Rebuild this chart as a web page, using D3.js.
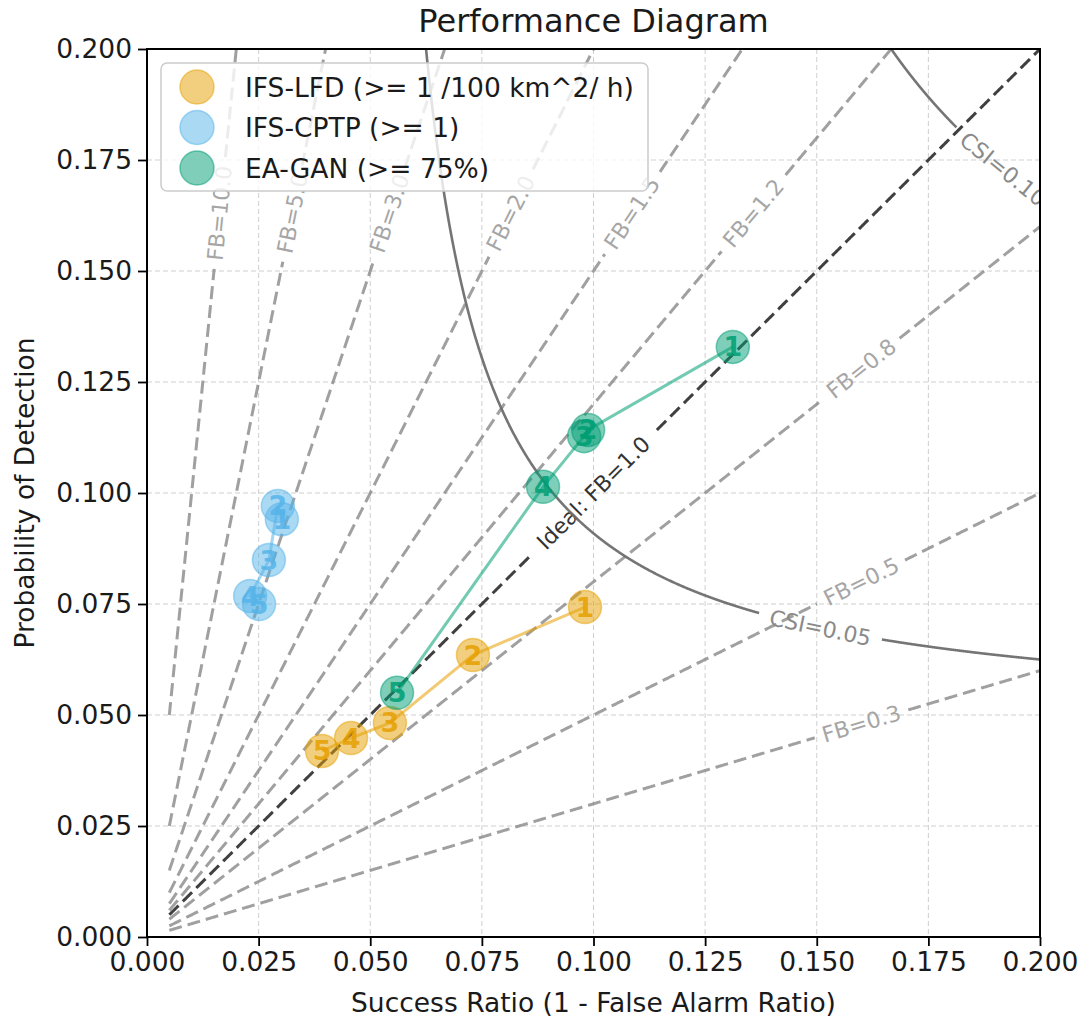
<!DOCTYPE html>
<html>
<head>
<meta charset="utf-8">
<script src="https://cdn.jsdelivr.net/npm/d3@7/dist/d3.min.js"></script>
<style>
  html, body { margin: 0; padding: 0; background: #fff; }
  svg { display: block; font-family: "DejaVu Sans", sans-serif; }
</style>
</head>
<body>
<svg id="chart" width="1083" height="1021"></svg>
<script>
// ---- data -------------------------------------------------------------
const leadTimes = [1, 2, 3, 4, 5];

const lfdSR  = [0.0981, 0.0730, 0.0544, 0.0457, 0.0392];
const lfdPOD = [0.0743, 0.0635, 0.0482, 0.0448, 0.0419];

const cptpSR  = [0.0302, 0.0293, 0.0273, 0.0231, 0.0251];
const cptpPOD = [0.0941, 0.0971, 0.0849, 0.0768, 0.0750];

const ganSR  = [0.1312, 0.0988, 0.0979, 0.0887, 0.0560];
const ganPOD = [0.1329, 0.1142, 0.1128, 0.1014, 0.0550];

const seriesNames  = ["IFS-LFD (>= 1 /100 km^2/ h)", "IFS-CPTP (>= 1)", "EA-GAN (>= 75%)"];
const seriesColors = ["#E69F00", "#56B4E9", "#009E73"];

const fbLevels = [10.0, 5.0, 3.0, 2.0, 1.5, 1.2, 0.8, 0.5, 0.3];
const fbLabels = ["FB=10.0", "FB=5.0", "FB=3.0", "FB=2.0", "FB=1.5", "FB=1.2", "FB=0.8", "FB=0.5", "FB=0.3"];
const csiLevels = [0.05, 0.10];
const csiLabels = ["CSI=0.05", "CSI=0.10"];
const csiLabelSR = [0.1508, 0.1917];

const tickValues = [0, 0.025, 0.05, 0.075, 0.1, 0.125, 0.15, 0.175, 0.2];

// ---- layout -----------------------------------------------------------
const svg = d3.select("#chart");
const L = 147, R = 1040, T = 49, B = 937;
const x = d3.scaleLinear().domain([0, 0.2]).range([L, R]);
const y = d3.scaleLinear().domain([0, 0.2]).range([B, T]);

svg.append("defs").append("clipPath").attr("id", "plotClip")
  .append("rect").attr("x", L).attr("y", T).attr("width", R - L).attr("height", B - T);

// grid
const grid = svg.append("g");
tickValues.forEach(v => {
  grid.append("line").attr("x1", x(v)).attr("x2", x(v)).attr("y1", T).attr("y2", B);
  grid.append("line").attr("x1", L).attr("x2", R).attr("y1", y(v)).attr("y2", y(v));
});
grid.selectAll("line").attr("stroke", "#cfcfcf").attr("stroke-width", 1)
  .attr("stroke-dasharray", "5,3");

const plot = svg.append("g").attr("clip-path", "url(#plotClip)");
const lineGen = d3.line().defined(d => d.keep).x(d => x(d.sr)).y(d => y(d.pod));

// label text; returns its half length so the line can be broken around it
function placeLabel(text, sr, pod, angleDeg, color) {
  const t = plot.append("text")
    .attr("transform", `translate(${x(sr)},${y(pod)}) rotate(${angleDeg})`)
    .attr("text-anchor", "middle")
    .attr("dominant-baseline", "central")
    .attr("font-size", 22)
    .attr("fill", color)
    .text(text);
  return t.node().getComputedTextLength() / 2;
}

function drawBroken(points, cx, cy, half, style) {
  points.forEach(p => {
    p.keep = Math.hypot(x(p.sr) - cx, y(p.pod) - cy) > half;
  });
  const path = plot.append("path").attr("d", lineGen(points)).attr("fill", "none");
  Object.entries(style).forEach(([k, v]) => path.attr(k, v));
  return path;
}

// frequency bias lines: POD = FB * SR
const fbStyle = { stroke: "#808080", "stroke-opacity": 0.75, "stroke-width": 3, "stroke-dasharray": "13,6" };
fbLevels.forEach((fb, i) => {
  const srMax = Math.min(0.2, 0.2 / fb);
  const pts = d3.range(0, 801).map(k => {
    const sr = 0.005 + (srMax - 0.005) * k / 800;
    return { sr, pod: fb * sr };
  });
  const lsr = fb > 1 ? 0.163 / fb : 0.16;
  const lpod = fb * lsr;
  const ang = -Math.atan2(y(0) - y(fb * 0.1), x(0.1) - x(0)) * 180 / Math.PI;
  const half = placeLabel(fbLabels[i], lsr, lpod, ang, "#a6a6a6");
  drawBroken(pts, x(lsr), y(lpod), half + 8, fbStyle);
});

// ideal line FB = 1
{
  const pts = d3.range(0, 801).map(k => {
    const sr = 0.005 + 0.195 * k / 800;
    return { sr, pod: sr };
  });
  const ang = -Math.atan2(y(0) - y(0.1), x(0.1) - x(0)) * 180 / Math.PI;
  const half = placeLabel("Ideal: FB=1.0", 0.1, 0.1, ang, "#333333");
  drawBroken(pts, x(0.1), y(0.1), half + 14,
    { stroke: "#2b2b2b", "stroke-opacity": 0.9, "stroke-width": 3, "stroke-dasharray": "13,6" });
}

// critical success index curves: 1/POD = 1/CSI + 1 - 1/SR
csiLevels.forEach((csi, i) => {
  const K = 1 / csi + 1;
  const srMin = 1 / (K - 5);
  const pts = d3.range(0, 1201).map(k => {
    const sr = srMin + (0.2 - srMin) * k / 1200;
    return { sr, pod: 1 / (K - 1 / sr) };
  });
  const lsr = csiLabelSR[i];
  const lpod = 1 / (K - 1 / lsr);
  const slope = (lpod / lsr) * (lpod / lsr);
  const ang = Math.atan(slope * (y(0) - y(0.1)) / (x(0.1) - x(0))) * 180 / Math.PI;
  const half = placeLabel(csiLabels[i], lsr, lpod, ang, "#8a8a8a");
  drawBroken(pts, x(lsr), y(lpod), half + 11,
    { stroke: "#6e6e6e", "stroke-opacity": 0.95, "stroke-width": 2.6 });
});

// ---- series -----------------------------------------------------------
const series = [
  { sr: lfdSR, pod: lfdPOD },
  { sr: cptpSR, pod: cptpPOD },
  { sr: ganSR, pod: ganPOD }
];
const markLine = d3.line().x(d => x(d[0])).y(d => y(d[1]));
series.forEach((s, si) => {
  const col = seriesColors[si];
  const pts = s.sr.map((v, k) => [v, s.pod[k]]);
  const g = svg.append("g");
  g.append("path").attr("d", markLine(pts)).attr("fill", "none")
    .attr("stroke", col).attr("stroke-opacity", 0.55).attr("stroke-width", 3);
  g.selectAll("circle").data(pts).join("circle")
    .attr("cx", d => x(d[0])).attr("cy", d => y(d[1])).attr("r", 16.5)
    .attr("fill", col).attr("fill-opacity", 0.5)
    .attr("stroke", col).attr("stroke-opacity", 0.5).attr("stroke-width", 1.5);
  g.selectAll("text").data(pts).join("text")
    .attr("x", d => x(d[0])).attr("y", d => y(d[1]))
    .attr("text-anchor", "middle").attr("dominant-baseline", "central")
    .attr("font-size", 27).attr("font-weight", "bold")
    .attr("fill", col).attr("fill-opacity", 0.85)
    .text((d, k) => leadTimes[k]);
});

// ---- axes -------------------------------------------------------------
const fmt = d3.format(".3f");
const xAxis = svg.append("g").attr("transform", `translate(0,${B})`)
  .call(d3.axisBottom(x).tickValues(tickValues).tickFormat(fmt).tickSize(9).tickPadding(6));
const yAxis = svg.append("g").attr("transform", `translate(${L},0)`)
  .call(d3.axisLeft(y).tickValues(tickValues).tickFormat(fmt).tickSize(9).tickPadding(6));
[xAxis, yAxis].forEach(a => {
  a.select(".domain").remove();
  a.selectAll(".tick line").attr("stroke", "#000").attr("stroke-width", 1.8);
  a.selectAll(".tick text").attr("font-size", 26.5).attr("fill", "#1a1a1a")
    .attr("font-family", "DejaVu Sans, sans-serif");
});
svg.append("rect").attr("x", L).attr("y", T).attr("width", R - L).attr("height", B - T)
  .attr("fill", "none").attr("stroke", "#000").attr("stroke-width", 2);

svg.append("text").attr("x", (L + R) / 2).attr("y", 1012).attr("text-anchor", "middle")
  .attr("font-size", 26.5).attr("fill", "#1a1a1a").text("Success Ratio (1 - False Alarm Ratio)");
svg.append("text").attr("transform", `translate(34,${(T + B) / 2}) rotate(-90)`)
  .attr("text-anchor", "middle").attr("font-size", 26.5).attr("fill", "#1a1a1a")
  .text("Probability of Detection");
svg.append("text").attr("x", (L + R) / 2).attr("y", 32).attr("text-anchor", "middle")
  .attr("font-size", 32).attr("fill", "#1a1a1a").text("Performance Diagram");

// ---- legend -----------------------------------------------------------
const leg = svg.append("g");
leg.append("rect").attr("x", 161).attr("y", 63).attr("width", 487).attr("height", 128)
  .attr("rx", 6).attr("fill", "#fff").attr("fill-opacity", 0.8)
  .attr("stroke", "#cccccc").attr("stroke-width", 1.5);
seriesNames.forEach((name, i) => {
  const cy = 87 + i * 40.5;
  leg.append("circle").attr("cx", 197).attr("cy", cy).attr("r", 17)
    .attr("fill", seriesColors[i]).attr("fill-opacity", 0.5)
    .attr("stroke", seriesColors[i]).attr("stroke-opacity", 0.5).attr("stroke-width", 1.5);
  leg.append("text").attr("x", 245).attr("y", cy).attr("dominant-baseline", "central")
    .attr("font-size", 26.5).attr("fill", "#1a1a1a").text(name);
});
</script>
</body>
</html>
